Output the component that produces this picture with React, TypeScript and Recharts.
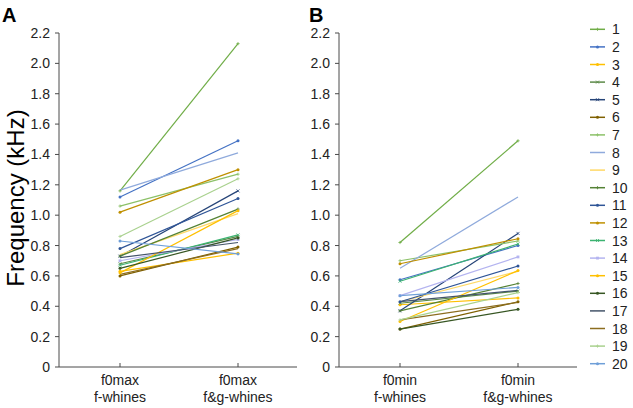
import React from "react";
import { LineChart, Line, XAxis, YAxis } from "recharts";

const FONT = "'Liberation Sans', Arial, sans-serif";
const AXIS = "#4a4a4a";

const BIRDS = ["1", "2", "3", "4", "5", "6", "7", "8", "9", "10", "11", "12", "13", "14", "15", "16", "17", "18", "19", "20"];

const COLORS = [
  "#70ad47", "#4472c4", "#ffc000", "#5b8a47", "#264478",
  "#7f6000", "#8cc168", "#8faadc", "#ffd966", "#548235",
  "#2f5597", "#bf9000", "#3cb371", "#b4b4f0", "#ffc000",
  "#375623", "#44546a", "#8c6d1f", "#a9d18e", "#6f9fd8",
];

const MARKERS = [
  "plus", "circle", "circle", "x", "x",
  "circle", "plus", "none", "none", "plus",
  "circle", "circle", "x", "square", "circle",
  "circle", "none", "none", "plus", "circle",
];

const MAX_CATEGORIES = ["f0max|f-whines", "f0max|f&g-whines"];
const MIN_CATEGORIES = ["f0min|f-whines", "f0min|f&g-whines"];

// panel A: f0max, one value per bird
const MAX_F = [1.16, 1.12, 0.63, 0.68, 0.73, 0.6, 1.06, 1.165, 0.74, 0.73, 0.78, 1.02, 0.67, 0.7, 0.62, 0.65, 0.72, 0.61, 0.86, 0.83];
const MAX_FG = [2.13, 1.49, 0.75, 0.86, 1.16, 0.79, 1.27, 1.41, 1.01, 1.04, 1.11, 1.3, 0.87, 0.84, 1.03, 0.85, 0.82, 0.78, 1.24, 0.745];

// panel B: f0min
const MIN_F = [0.82, 0.575, 0.41, 0.42, 0.37, 0.25, 0.7, 0.65, 0.43, 0.37, 0.43, 0.68, 0.565, 0.47, 0.3, 0.25, 0.43, 0.31, 0.31, 0.47];
const MIN_FG = [1.49, 0.8, 0.455, 0.5, 0.88, 0.43, 0.83, 1.12, 0.63, 0.55, 0.665, 0.845, 0.81, 0.725, 0.635, 0.38, 0.505, 0.425, 0.49, 0.524];

const Y_TICKS = [0, 0.2, 0.4, 0.6, 0.8, 1.0, 1.2, 1.4, 1.6, 1.8, 2.0, 2.2];

function buildRows(cats: string[], first: number[], second: number[]) {
  return cats.map((cat, ci) => {
    const row: Record<string, any> = { cat };
    BIRDS.forEach((b, i) => {
      row["s" + b] = (ci === 0 ? first : second)[i];
    });
    return row;
  });
}

const maxRows = buildRows(MAX_CATEGORIES, MAX_F, MAX_FG);
const minRows = buildRows(MIN_CATEGORIES, MIN_F, MIN_FG);

function Marker({ cx, cy, shape, color }: { cx: number; cy: number; shape: string; color: string }) {
  if (shape === "plus")
    return (
      <g stroke={color} strokeWidth={0.8}>
        <line x1={cx - 1.6} x2={cx + 1.6} y1={cy} y2={cy} />
        <line x1={cx} x2={cx} y1={cy - 1.6} y2={cy + 1.6} />
      </g>
    );
  if (shape === "x")
    return (
      <g stroke={color} strokeWidth={0.8}>
        <line x1={cx - 1.5} x2={cx + 1.5} y1={cy - 1.5} y2={cy + 1.5} />
        <line x1={cx - 1.5} x2={cx + 1.5} y1={cy + 1.5} y2={cy - 1.5} />
      </g>
    );
  if (shape === "square") return <rect x={cx - 1.4} y={cy - 1.4} width={2.8} height={2.8} fill={color} />;
  return <circle cx={cx} cy={cy} r={1.5} fill={color} />;
}

function CatTick(props: any) {
  const { x, y, payload } = props;
  const [top, bottom] = String(payload.value).split("|");
  return (
    <g>
      <line x1={x} x2={x} y1={y - 4} y2={y} stroke={AXIS} />
      <text x={x} y={y + 18} textAnchor="middle" fontFamily={FONT} fontSize={14} fill="#222">
        {top}
      </text>
      <text x={x} y={y + 35} textAnchor="middle" fontFamily={FONT} fontSize={14} fill="#222">
        {bottom}
      </text>
    </g>
  );
}

function Panel({ rows }: { rows: Record<string, any>[] }) {
  return (
    <LineChart width={300} height={408} data={rows} margin={{ top: 33, right: 3, bottom: 11, left: 0 }}>
      <XAxis
        dataKey="cat"
        height={30}
        interval={0}
        padding={{ left: 61, right: 59 }}
        axisLine={{ stroke: AXIS }}
        tickLine={false}
        tickSize={0}
        tickMargin={0}
        tick={<CatTick />}
      />
      <YAxis
        type="number"
        domain={[0, 2.2]}
        ticks={Y_TICKS}
        width={59}
        axisLine={{ stroke: AXIS }}
        tickLine={{ stroke: AXIS }}
        tickSize={4}
        tickMargin={5}
        tick={{ fontFamily: FONT, fontSize: 14, fill: "#222" }}
        tickFormatter={(v: number) => (v === 0 ? "0" : v.toFixed(1))}
      />
      {BIRDS.map((b, i) => (
        <Line
          key={b}
          dataKey={"s" + b}
          name={b}
          stroke={COLORS[i]}
          strokeWidth={1.2}
          isAnimationActive={false}
          activeDot={false}
          dot={
            MARKERS[i] === "none"
              ? false
              : (p: any) => <Marker key={b + "-" + p.index} cx={p.cx} cy={p.cy} shape={MARKERS[i]} color={COLORS[i]} />
          }
        />
      ))}
    </LineChart>
  );
}

export default function App() {
  return (
    <div style={{ position: "relative", width: 633, height: 408, background: "#fff", fontFamily: FONT }}>
      <style>{"body{margin:0}"}</style>
      <div style={{ position: "absolute", left: 0, top: 0 }}>
        <Panel rows={maxRows} />
      </div>
      <div style={{ position: "absolute", left: 280, top: 0 }}>
        <Panel rows={minRows} />
      </div>
      <svg width={633} height={408} style={{ position: "absolute", left: 0, top: 0, pointerEvents: "none" }}>
        <text x={2} y={22} fontFamily={FONT} fontSize={20} fontWeight="bold" fill="#000">A</text>
        <text x={309} y={22} fontFamily={FONT} fontSize={20} fontWeight="bold" fill="#000">B</text>
        <text x={24} y={198} transform="rotate(-90 24 198)" textAnchor="middle" fontFamily={FONT} fontSize={24} fill="#000">
          Frequency (kHz)
        </text>
        {BIRDS.map((b, i) => {
          const cy = 29.3 + i * 17.6;
          return (
            <g key={b}>
              <line x1={590} x2={605} y1={cy} y2={cy} stroke={COLORS[i]} strokeWidth={1.5} />
              {MARKERS[i] !== "none" && <Marker cx={597.5} cy={cy} shape={MARKERS[i]} color={COLORS[i]} />}
              <text x={612} y={cy + 5} fontFamily={FONT} fontSize={14} fill="#222">
                {b}
              </text>
            </g>
          );
        })}
      </svg>
    </div>
  );
}
